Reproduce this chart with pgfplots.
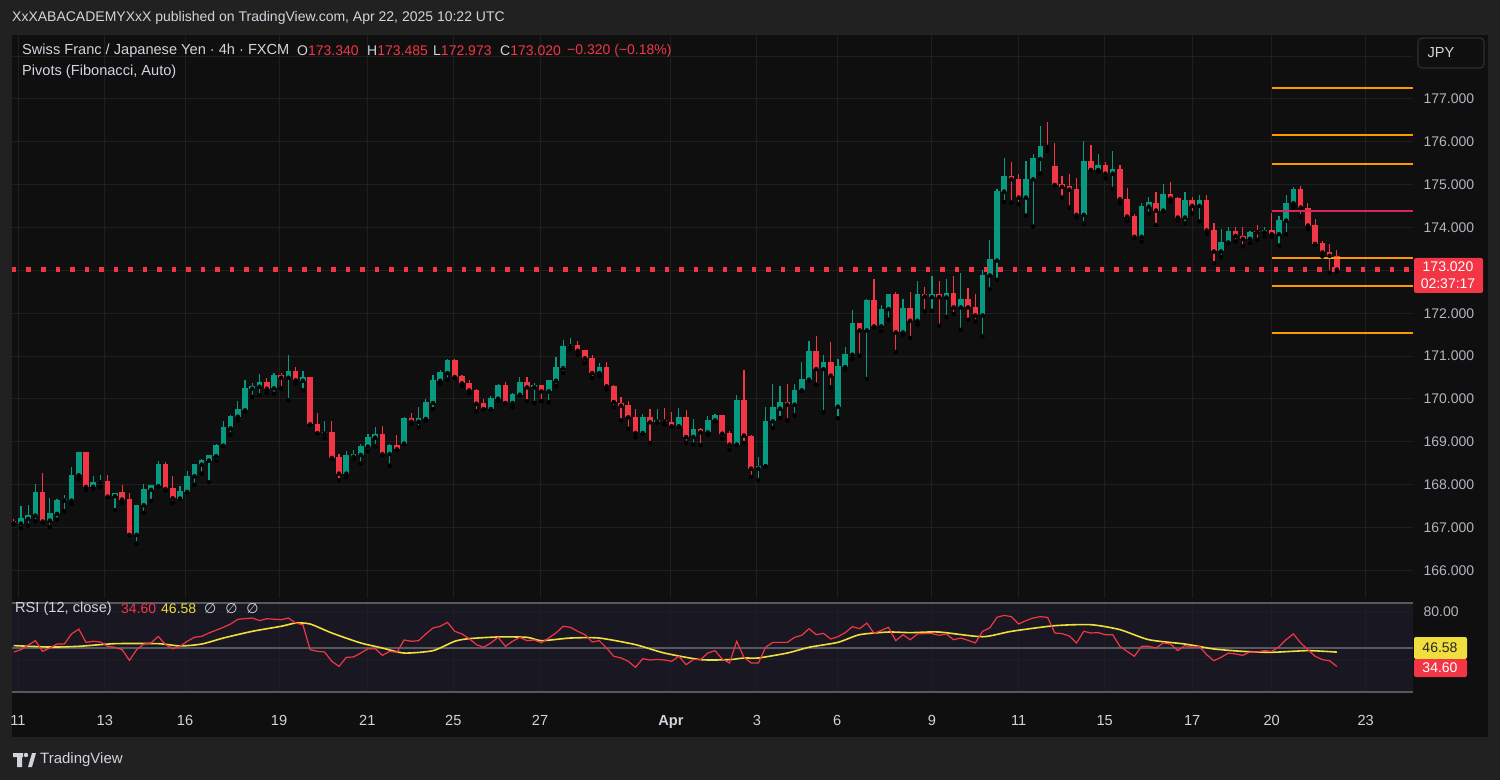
\documentclass[border=0pt]{standalone}
\usepackage{fontspec}
\setmainfont{Liberation Sans}
\newfontfamily\symfont{DejaVu Sans}
\usepackage{pgfplots}
\usepackage{pgfplotstable}
\pgfplotsset{compat=1.18}

\definecolor{page}{RGB}{33,33,33}
\definecolor{bg}{RGB}{15,15,15}
\definecolor{gridc}{RGB}{31,31,31}
\definecolor{framec}{RGB}{46,46,46}
\definecolor{txt}{RGB}{209,212,220}
\definecolor{muted}{RGB}{178,181,190}
\definecolor{upc}{RGB}{8,153,129}
\definecolor{downc}{RGB}{242,54,69}
\definecolor{pivorange}{RGB}{255,152,0}
\definecolor{pivp}{RGB}{214,38,94}
\definecolor{rsibg}{RGB}{25,23,34}
\definecolor{bandc}{RGB}{88,88,98}
\definecolor{rsiyellow}{RGB}{240,222,60}

% 4h candles, index 0 = first bar on the left
\pgfplotstableread{
i o h l c
1 167.093 167.512 166.984 167.225
2 167.202 167.536 167.046 167.295
3 167.279 168.017 167.147 167.839
5 167.163 167.691 167.015 167.341
6 167.318 167.668 167.186 167.652
7 167.629 167.769 167.380 167.652
8 167.629 168.406 167.551 168.235
9 168.219 168.771 168.134 168.756
11 167.948 168.212 167.901 168.056
12 168.056 168.235 167.948 168.087
14 167.730 167.816 167.404 167.816
17 166.829 167.536 166.627 167.536
18 167.520 168.017 167.341 167.901
19 167.878 168.002 167.621 167.994
20 167.963 168.561 167.948 168.484
23 167.676 167.963 167.668 167.847
24 167.831 168.328 167.823 168.212
25 168.196 168.492 167.994 168.484
26 168.468 168.600 168.258 168.569
27 168.561 168.701 168.056 168.686
28 168.663 168.942 168.554 168.927
29 168.911 169.494 168.905 169.339
30 169.315 169.626 169.168 169.610
31 169.587 169.952 169.494 169.766
32 169.735 170.450 169.704 170.255
33 170.240 170.380 170.046 170.310
34 170.286 170.589 170.084 170.403
36 170.248 170.605 170.123 170.558
38 170.496 171.032 169.968 170.659
40 170.426 170.644 170.201 170.512
43 169.191 169.494 169.082 169.237
46 168.258 168.795 168.173 168.686
47 168.655 168.802 168.600 168.717
48 168.694 168.958 168.492 168.911
49 168.888 169.183 168.779 169.113
50 169.098 169.346 168.896 169.183
52 168.717 168.950 168.445 168.934
54 168.958 169.571 168.950 169.564
56 169.470 169.812 169.338 169.564
57 169.533 170.007 169.494 169.921
58 169.906 170.550 169.766 170.442
59 170.426 170.683 170.364 170.620
60 170.605 170.939 170.450 170.916
66 169.766 170.061 169.750 170.030
67 170.007 170.356 169.960 170.333
69 169.906 170.139 169.805 170.123
70 170.100 170.504 170.077 170.395
72 170.271 170.372 169.906 170.325
74 170.178 170.450 169.921 170.434
75 170.426 170.978 170.310 170.737
76 170.721 171.382 170.605 171.226
77 171.226 171.421 171.149 171.258
81 170.605 170.838 170.527 170.737
87 169.207 169.657 169.183 169.580
89 169.471 169.766 169.440 169.494
92 169.362 169.789 169.355 169.580
94 169.113 169.533 168.935 169.300
96 169.222 169.611 169.168 169.517
97 169.502 169.657 169.478 169.634
100 168.935 170.100 168.930 169.984
103 168.375 168.639 168.103 168.445
104 168.430 169.813 168.425 169.494
105 169.479 170.357 169.323 169.805
106 169.774 170.295 169.556 169.929
108 169.867 170.357 169.618 170.217
109 170.201 170.869 170.195 170.473
110 170.450 171.343 170.434 171.126
112 170.698 171.033 169.688 170.869
114 169.821 170.932 169.549 170.761
115 170.745 171.211 170.683 171.056
116 171.033 172.082 170.932 171.771
118 171.600 172.330 170.466 172.315
120 171.693 172.198 171.577 172.105
121 172.097 172.455 171.849 172.447
123 171.553 172.330 171.499 172.120
125 171.825 172.757 171.732 172.454
127 172.377 172.858 172.058 172.454
129 172.369 172.804 171.911 172.470
131 172.136 172.936 171.615 172.338
134 171.949 172.998 171.460 172.897
135 172.882 173.713 172.563 173.262
136 173.231 174.894 172.781 174.855
137 174.840 175.617 174.591 175.213
140 174.700 175.555 174.280 175.143
141 175.127 175.710 174.024 175.617
142 175.601 176.371 175.259 175.904
148 174.296 176.021 174.094 175.555
150 175.345 175.710 175.306 175.462
152 175.259 175.788 174.902 175.368
156 173.783 174.568 173.674 174.514
157 174.490 174.723 174.319 174.591
159 174.397 175.019 174.374 174.786
162 174.234 174.840 174.102 174.646
164 174.506 174.762 174.141 174.646
167 173.441 173.962 173.309 173.659
168 173.651 174.024 173.645 173.931
171 173.737 173.931 173.636 173.900
173 173.892 174.024 173.791 173.946
175 173.845 174.273 173.581 174.180
176 174.164 174.762 173.845 174.583
177 174.568 174.941 174.475 174.902
}\upcandles

\pgfplotstableread{
i o h l c
0 167.163 167.190 167.080 167.100
4 167.839 168.282 167.124 167.140
10 168.756 168.771 167.870 167.948
13 168.080 168.235 167.707 167.722
15 167.823 168.002 167.575 167.652
16 167.676 167.816 166.820 166.829
21 168.491 168.523 167.862 167.901
22 167.924 168.196 167.575 167.683
35 170.403 170.496 170.139 170.240
37 170.558 170.605 170.248 170.496
39 170.659 170.745 170.364 170.434
41 170.504 170.512 169.393 169.408
42 169.416 169.680 169.191 169.206
44 169.230 169.494 168.600 168.624
45 168.647 168.725 168.103 168.258
51 169.183 169.362 168.694 168.709
53 168.927 169.160 168.818 168.826
55 169.564 169.680 169.424 169.470
61 170.916 170.939 170.488 170.512
62 170.527 170.550 170.294 170.364
63 170.372 170.450 170.139 170.201
64 170.216 170.232 169.711 169.890
65 169.906 170.007 169.750 169.766
68 170.333 170.395 169.898 169.906
71 170.395 170.504 169.945 170.271
73 170.325 170.333 169.945 170.178
78 171.258 171.359 171.032 171.126
79 171.134 171.149 170.838 170.947
80 170.962 171.032 170.488 170.605
82 170.737 170.854 170.216 170.294
83 170.310 170.333 169.812 169.929
84 169.906 170.046 169.502 169.844
85 169.852 169.945 169.300 169.572
86 169.580 169.766 169.106 169.207
88 169.580 169.766 168.973 169.455
90 169.494 169.789 169.401 169.471
91 169.471 169.688 169.355 169.362
93 169.580 169.751 168.973 169.113
95 169.300 169.323 168.919 169.222
98 169.626 169.634 169.075 169.191
99 169.207 169.245 168.818 168.935
101 169.984 170.667 168.973 169.145
102 169.145 169.160 168.181 168.375
107 169.929 170.357 169.502 169.867
111 171.126 171.460 170.333 170.698
113 170.869 171.320 170.271 170.543
117 171.771 171.780 171.009 171.600
119 172.315 172.804 171.670 171.693
122 172.447 172.486 171.095 171.553
124 172.120 172.485 171.421 171.825
126 172.454 172.610 172.043 172.392
128 172.454 172.742 171.708 172.377
130 172.470 172.858 171.981 172.136
132 172.338 172.587 171.848 172.136
133 172.144 172.454 171.809 171.949
138 175.213 175.539 174.583 175.127
139 175.143 175.244 174.545 174.700
143 175.912 176.456 175.788 175.881
144 175.438 175.982 174.980 174.995
145 175.011 175.213 174.700 174.949
146 174.972 175.244 174.467 174.887
147 174.902 175.151 174.234 174.296
149 175.555 175.928 175.340 175.345
151 175.462 175.524 175.151 175.259
153 175.368 175.462 174.568 174.661
154 174.669 174.933 174.156 174.257
155 174.273 174.312 173.752 173.783
158 174.584 174.840 174.063 174.397
160 174.786 175.073 174.607 174.677
161 174.692 174.708 174.164 174.234
163 174.646 174.708 174.335 174.506
165 174.646 174.762 173.853 173.931
166 173.946 174.102 173.169 173.441
169 173.931 174.009 173.675 173.807
170 173.814 174.009 173.558 173.737
172 173.915 174.063 173.713 173.892
174 173.946 174.350 173.791 173.845
178 174.902 174.972 174.257 174.467
179 174.467 174.583 173.962 174.047
180 174.063 174.195 173.610 173.620
181 173.636 173.690 173.325 173.418
182 173.436 173.616 172.946 173.340
183 173.340 173.485 172.973 173.020
}\downcandles

\pgfplotstableread{
i v
0 46.7
1 48.6
3 56.1
4 47.2
5 50.0
6 53.3
7 53.3
8 61.7
9 65.8
10 54.7
11 55.6
12 55.0
13 51.4
14 50.6
15 48.6
16 39.7
17 48.6
18 53.3
19 54.2
20 59.7
21 52.8
22 49.4
23 51.4
24 55.6
25 58.9
26 59.7
27 62.5
29 67.2
30 70.0
31 73.9
33 75.0
34 72.8
35 74.4
37 73.6
38 75.0
39 70.8
40 69.4
41 48.6
42 47.2
43 46.7
44 38.9
45 34.7
46 42.2
47 42.5
48 45.8
49 49.4
50 49.4
51 43.9
52 47.2
53 46.4
54 56.7
55 55.6
56 56.1
57 61.7
58 66.7
59 68.1
60 71.4
61 63.9
62 61.7
63 57.8
64 52.8
65 50.6
66 54.2
67 58.9
68 51.4
69 55.6
70 58.9
71 56.1
72 56.7
73 54.4
74 58.3
75 62.5
76 68.1
77 67.2
78 63.9
79 61.1
80 55.0
81 56.1
82 50.0
83 43.1
84 41.7
85 38.9
86 33.9
87 41.1
88 40.0
89 40.5
90 40.0
91 38.9
92 43.1
93 36.1
94 40.3
95 40.3
96 45.8
97 47.8
98 40.8
99 37.5
100 55.6
101 42.2
102 37.5
103 37.5
104 50.6
105 54.7
107 54.7
108 58.9
109 60.6
110 66.1
111 61.1
112 62.2
113 57.5
114 59.4
115 62.8
116 67.8
117 66.1
118 70.8
119 62.2
120 64.7
121 67.2
122 56.1
123 61.1
124 56.9
125 61.7
126 62.0
127 62.0
128 60.6
129 61.7
130 56.9
131 58.3
132 56.4
133 54.2
134 63.9
135 66.7
136 75.6
137 77.2
138 76.1
139 70.0
140 72.8
141 75.0
142 76.1
143 75.5
144 62.5
145 62.0
146 60.0
147 54.2
148 63.9
149 62.5
150 62.8
151 61.1
152 61.1
153 51.4
154 47.2
155 43.1
156 51.4
157 51.4
158 50.0
159 54.2
160 53.3
161 47.8
162 52.0
163 50.6
164 51.4
165 44.4
166 39.4
167 42.2
168 45.8
169 45.0
170 43.9
171 46.7
172 46.7
173 47.8
174 47.2
175 51.0
176 57.0
177 61.7
178 54.2
179 48.6
180 43.1
181 40.3
182 39.4
183 34.6
}\rsidata

\pgfplotstableread{
i v
0 52.0
5 50.8
9 51.4
14 53.6
20 53.6
23 51.7
26 53.3
29 58.3
33 63.9
37 68.1
39 70.8
41 70.0
44 62.5
48 54.2
51 50.0
54 45.8
58 47.8
61 55.6
63 57.8
67 59.2
71 58.9
73 56.1
77 58.3
81 58.3
86 52.8
90 45.8
95 40.3
99 40.3
101 41.7
103 41.7
107 45.8
110 50.6
114 54.7
117 61.1
121 63.3
124 62.8
128 63.3
134 59.4
138 63.9
144 68.6
149 69.4
153 65.3
157 56.9
162 53.3
166 49.2
170 47.2
174 46.4
179 47.8
183 46.58
}\rsima

\newcommand{\fs}{\fontsize{14}{16}\selectfont}
\newcommand{\fl}{\fontsize{14.6}{16}\selectfont}

\begin{document}
\begin{tikzpicture}[x=1pt,y=1pt]
\path[use as bounding box, fill=page] (0,0) rectangle (1500,780);
\fill[bg] (12,745) rectangle (1488,43);

% price pane
\begin{axis}[
  at={(12pt,182pt)}, anchor=south west,
  scale only axis, width=1401pt, height=562pt,
  xmin=-0.235, xmax=193.54, ymin=165.355, ymax=178.47,
  axis line style={draw=none}, tick style={draw=none},
  xtick={0.6,12.6,23.7,36.7,48.9,60.8,72.8,90.9,102.8,113.9,127.0,139.0,150.9,163.0,174.0,187.0},
  xticklabels={},
  ytick={166,167,168,169,170,171,172,173,174,175,176,177,178},
  yticklabels={166.000,167.000,168.000,169.000,170.000,171.000,172.000,,174.000,175.000,176.000,177.000,},
  yticklabel pos=right,
  yticklabel style={font=\fs, text=muted, anchor=west, xshift=7pt},
  grid=major, major grid style={gridc, line width=1pt},
]
% wicks
\addplot[only marks, mark=none, forget plot,
  error bars/.cd, y dir=plus, y explicit, error mark=none,
  error bar style={draw=upc, line width=1.2pt}]
  table[x=i, y=l, y error expr={\thisrow{h}-\thisrow{l}}] {\upcandles};
\addplot[only marks, mark=none, forget plot,
  error bars/.cd, y dir=plus, y explicit, error mark=none,
  error bar style={draw=downc, line width=1.2pt}]
  table[x=i, y=l, y error expr={\thisrow{h}-\thisrow{l}}] {\downcandles};
% bodies
\addplot[only marks, mark=none, forget plot,
  error bars/.cd, y dir=plus, y explicit, error mark=none,
  error bar style={draw=upc, line width=5.6pt}]
  table[x=i, y=o, y error expr={max(\thisrow{c}-\thisrow{o},0.03)}] {\upcandles};
\addplot[only marks, mark=none, forget plot,
  error bars/.cd, y dir=plus, y explicit, error mark=none,
  error bar style={draw=downc, line width=5.6pt}]
  table[x=i, y=c, y error expr={max(\thisrow{o}-\thisrow{c},0.03)}] {\downcandles};
% fibonacci pivots
\addplot[pivorange, line width=2pt] coordinates {(174.0,177.25) (193.54,177.25)};
\addplot[pivorange, line width=2pt] coordinates {(174.0,176.16) (193.54,176.16)};
\addplot[pivorange, line width=2pt] coordinates {(174.0,175.49) (193.54,175.49)};
\addplot[pivp, line width=2pt] coordinates {(174.0,174.38) (193.54,174.38)};
\addplot[pivorange, line width=2pt] coordinates {(174.0,173.30) (193.54,173.30)};
\addplot[pivorange, line width=2pt] coordinates {(174.0,172.63) (193.54,172.63)};
\addplot[pivorange, line width=2pt] coordinates {(174.0,171.53) (193.54,171.53)};
% last price line
\addplot[downc, line width=4.5pt, dash pattern=on 4.5pt off 10pt] coordinates {(-0.235,173.02) (193.54,173.02)};
\end{axis}

% RSI pane
\begin{axis}[
  at={(12pt,88pt)}, anchor=south west,
  scale only axis, width=1401pt, height=89pt,
  xmin=-0.235, xmax=193.54, ymin=13.33, ymax=87.5,
  clip=false,
  axis line style={draw=none}, tick style={draw=none},
  axis background/.style={fill=rsibg},
  xtick={0.6,12.6,23.7,36.7,48.9,60.8,72.8,90.9,102.8,113.9,127.0,139.0,150.9,163.0,174.0,187.0},
  xticklabels={11,13,16,19,21,25,27,\textbf{Apr},3,6,9,11,15,17,20,23},
  xticklabel style={font=\fl, text=txt, anchor=base, yshift=-33pt},
  ytick={40,80}, yticklabels={,80.00},
  yticklabel pos=right,
  yticklabel style={font=\fs, text=muted, anchor=west, xshift=7pt},
  grid=major, major grid style={gridc, line width=1pt},
]
\draw[bandc, line width=1.5pt] (rel axis cs:0,1) -- (rel axis cs:1,1);
\draw[bandc, line width=1.5pt] (rel axis cs:0,0) -- (rel axis cs:1,0);
\addplot[bandc, line width=1.2pt] coordinates {(-0.235,50) (193.54,50)};
\addplot[rsiyellow, line width=1.6pt, smooth, tension=0.4] table[x=i, y=v] {\rsima};
\addplot[downc, line width=1.2pt] table[x=i, y=v] {\rsidata};
\end{axis}

% header and legends
\node[anchor=west, inner sep=0, text=txt, font=\fontsize{14}{16}\selectfont] at (12,762) {XxXABACADEMYXxX published on TradingView.com, Apr 22, 2025 10:22 UTC};
\node[anchor=west, inner sep=0, text=txt, font=\fl] at (22,729) {Swiss Franc / Japanese Yen · 4h · FXCM};
\node[anchor=west, inner sep=0, font=\fs] at (297,729) {\textcolor{txt}{O}\textcolor{downc}{173.340}};
\node[anchor=west, inner sep=0, font=\fs] at (367,729) {\textcolor{txt}{H}\textcolor{downc}{173.485}};
\node[anchor=west, inner sep=0, font=\fs] at (433,729) {\textcolor{txt}{L}\textcolor{downc}{172.973}};
\node[anchor=west, inner sep=0, font=\fs] at (500,729) {\textcolor{txt}{C}\textcolor{downc}{173.020}};
\node[anchor=west, inner sep=0, font=\fs, text=downc] at (567,729) {−0.320 (−0.18\%)};
\node[anchor=west, inner sep=0, text=txt, font=\fl] at (22,708) {Pivots (Fibonacci, Auto)};
\node[anchor=west, inner sep=0, text=txt, font=\fl] at (15,171) {RSI (12, close)};
\node[anchor=west, inner sep=0, text=downc, font=\fs] at (121,171) {34.60};
\node[anchor=west, inner sep=0, text=rsiyellow, font=\fs] at (161,171) {46.58};
\node[anchor=west, inner sep=0, text=txt, font=\fs] at (204,171) {\symfont ∅\ \ ∅\ \ ∅};

% JPY button
\draw[framec, line width=1.2pt, rounded corners=4pt] (1418,742) rectangle (1484,712);
\node[text=txt, font=\fl] at (1441,727) {JPY};

% last price label
\fill[downc, rounded corners=2pt] (1414,522) rectangle (1483,487);
\node[text=white, font=\fs] at (1448,513) {173.020};
\node[text=white, font=\fs] at (1448,496) {02:37:17};

% RSI value labels
\fill[rsiyellow, rounded corners=2pt] (1414,143) rectangle (1467,121);
\node[text=black!85, font=\fs] at (1440,132) {46.58};
\fill[downc, rounded corners=2pt] (1414,121) rectangle (1467,103);
\node[text=white, font=\fs] at (1440,112) {34.60};

% TradingView mark
\fill[txt] (13,27) rectangle (23,23) (17,23) rectangle (22,13);
\fill[txt] (26,25) circle (2.2);
\fill[txt] (28,13) -- (32,27) -- (36,27) -- (32,13) -- cycle;
\node[anchor=west, inner sep=0, text=txt, font=\fontsize{15}{17}\selectfont] at (40,20) {TradingView};
\end{tikzpicture}
\end{document}
